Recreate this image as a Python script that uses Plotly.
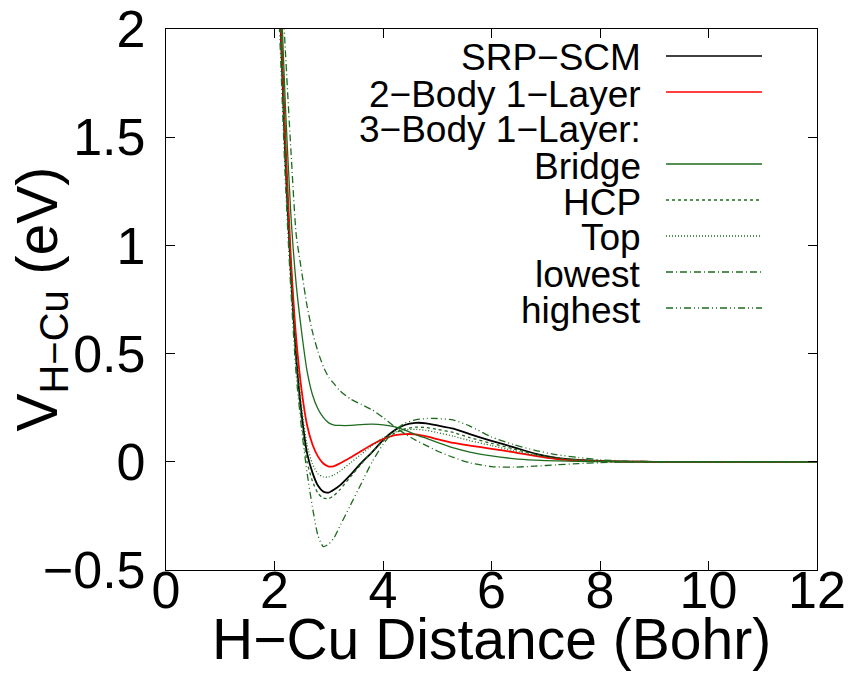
import plotly.graph_objects as go

# H-Cu distance grid (Bohr)
r = [2.0, 2.1, 2.2, 2.3, 2.4, 2.5, 2.6, 2.7, 2.8, 2.9, 3.0, 3.1, 3.2, 3.4, 3.6, 3.8,
     4.0, 4.2, 4.4, 4.6, 4.8, 5.0, 5.3, 5.6, 6.0, 6.4, 6.8, 7.2, 7.6, 8.0, 8.5, 9.0,
     10.0, 11.0, 12.0]

srp_scm = [2.8, 2.1, 1.4, 0.88, 0.48, 0.22, 0.04, -0.05, -0.11, -0.138, -0.142, -0.128,
           -0.11, -0.06, -0.005, 0.045, 0.10, 0.143, 0.17, 0.18, 0.178, 0.168, 0.153,
           0.128, 0.097, 0.068, 0.038, 0.018, 0.009, 0.004, 0.001, 0.0, 0.0, 0.0, 0.0]

two_body = [2.8, 2.15, 1.5, 0.95, 0.57, 0.33, 0.17, 0.08, 0.025, -0.008, -0.022, -0.02,
            -0.008, 0.02, 0.05, 0.08, 0.105, 0.122, 0.128, 0.127, 0.118, 0.105, 0.087,
            0.075, 0.06, 0.045, 0.027, 0.013, 0.006, 0.003, 0.001, 0.0, 0.0, 0.0, 0.0]

bridge = [3.0, 2.3, 1.65, 1.15, 0.82, 0.6, 0.42, 0.31, 0.245, 0.205, 0.18, 0.17,
          0.168, 0.168, 0.172, 0.174, 0.171, 0.162, 0.146, 0.126, 0.108, 0.09, 0.064,
          0.045, 0.027, 0.015, 0.008, 0.004, 0.002, 0.001, 0.0, 0.0, 0.0, 0.0, 0.0]

hcp = [2.8, 2.1, 1.4, 0.86, 0.45, 0.18, 0.0, -0.09, -0.145, -0.168, -0.17, -0.155,
       -0.13, -0.07, -0.01, 0.045, 0.095, 0.13, 0.152, 0.16, 0.158, 0.15, 0.135,
       0.112, 0.085, 0.06, 0.035, 0.018, 0.009, 0.004, 0.001, 0.0, 0.0, 0.0, 0.0]

top = [2.8, 2.12, 1.45, 0.92, 0.52, 0.25, 0.08, -0.01, -0.055, -0.07, -0.07, -0.06,
       -0.045, -0.005, 0.035, 0.075, 0.11, 0.135, 0.148, 0.15, 0.145, 0.135, 0.118,
       0.098, 0.075, 0.052, 0.03, 0.015, 0.007, 0.003, 0.001, 0.0, 0.0, 0.0, 0.0]

lowest = [3.0, 2.4, 1.9, 1.45, 1.05, 0.88, 0.72, 0.6, 0.51, 0.44, 0.39, 0.36, 0.33,
          0.29, 0.265, 0.24, 0.205, 0.165, 0.13, 0.10, 0.075, 0.05, 0.02, -0.005,
          -0.022, -0.025, -0.02, -0.014, -0.008, -0.004, -0.001, 0.0, 0.0, 0.0, 0.0]

highest = [2.6, 1.95, 1.3, 0.8, 0.4, 0.15, -0.05, -0.21, -0.34, -0.392, -0.38, -0.35,
           -0.3, -0.2, -0.1, 0.0, 0.08, 0.142, 0.178, 0.194, 0.2, 0.2, 0.193, 0.165,
           0.115, 0.08, 0.053, 0.033, 0.02, 0.009, 0.003, 0.001, 0.0, 0.0, 0.0]

x_ticks = [0, 2, 4, 6, 8, 10, 12]
y_ticks = [-0.5, 0, 0.5, 1, 1.5, 2]
y_tick_text = ["\u22120.5", "0", "0.5", "1", "1.5", "2"]

legend_labels = ["SRP\u2212SCM", "2\u2212Body 1\u2212Layer", "3\u2212Body 1\u2212Layer:",
                 "Bridge", "HCP", "Top", "lowest", "highest"]

GREEN = "#1e6b1e"
FONT = "Liberation Sans, Arial, sans-serif"

# figure is 8px smaller each way: the page body has an 8px margin
W, H = 851, 679
ml, mr, mt, mb = 158, 42, 21, 117
pw, ph = W - ml - mr, H - mt - mb

styles = [
    ("black", 1.8, "solid"),
    ("red", 1.8, "solid"),
    None,
    (GREEN, 1.3, "solid"),
    (GREEN, 1.3, "3px,3px"),
    (GREEN, 1.3, "1px,2px"),
    (GREEN, 1.3, "7px,3px,1px,3px"),
    (GREEN, 1.3, "7px,3px,1px,3px,1px,3px"),
]
data = [srp_scm, two_body, None, bridge, hcp, top, lowest, highest]

fig = go.Figure()
for ys, st, lab in zip(data, styles, legend_labels):
    if ys is None:
        continue
    col, w, dash = st
    fig.add_trace(go.Scatter(x=r, y=ys, mode="lines", name=lab,
                             line=dict(color=col, width=w, dash=dash,
                                       shape="spline", smoothing=0.6),
                             showlegend=False))

# legend (gnuplot style: right-aligned text, sample line on the right)
row0 = 48
dy = 36
shapes = []
annotations = []
for i, lab in enumerate(legend_labels):
    ypix = row0 + i * dy
    yp = 1 - (ypix - mt) / ph
    annotations.append(dict(x=(635 - ml) / pw, y=yp, xref="paper", yref="paper",
                            yshift=-2,
                            text=lab, showarrow=False, xanchor="right", yanchor="middle",
                            font=dict(size=37, color="black", family=FONT)))
    if styles[i] is not None:
        c, w, d = styles[i]
        shapes.append(dict(type="line", xref="paper", yref="paper",
                           x0=(658 - ml) / pw, x1=(754 - ml) / pw, y0=yp, y1=yp,
                           line=dict(color=c, width=min(w, 1.5), dash=d)))

# axis titles
annotations.append(dict(x=0.5, y=0, xref="paper", yref="paper", yshift=-69,
                        text="H\u2212Cu Distance (Bohr)", showarrow=False,
                        xanchor="center", yanchor="middle",
                        font=dict(size=57, color="black", family=FONT)))
annotations.append(dict(x=0, y=0.5, xref="paper", yref="paper", xshift=-126,
                        text="V<sub>H\u2212Cu</sub> (eV)", showarrow=False, textangle=-90,
                        xanchor="center", yanchor="middle",
                        font=dict(size=57, color="black", family=FONT)))

axis_common = dict(showgrid=False, zeroline=False, showline=True, linecolor="black",
                   linewidth=1.2, mirror="ticks", ticks="inside", ticklen=9,
                   tickwidth=1, tickcolor="black", automargin=False,
                   ticklabeloverflow="allow",
                   tickfont=dict(size=52, color="black", family=FONT))

fig.update_layout(
    width=W, height=H,
    margin=dict(l=ml, r=mr, t=mt, b=mb, pad=0, autoexpand=False),
    paper_bgcolor="white", plot_bgcolor="white",
    xaxis=dict(range=[0, 12], tickvals=x_ticks, ticktext=[str(v) for v in x_ticks],
               ticklabelstandoff=-26, **axis_common),
    yaxis=dict(range=[-0.5, 2], tickvals=y_ticks, ticktext=y_tick_text,
               ticklabelstandoff=9, **axis_common),
    shapes=shapes, annotations=annotations,
)

fig.write_html("out.html")
